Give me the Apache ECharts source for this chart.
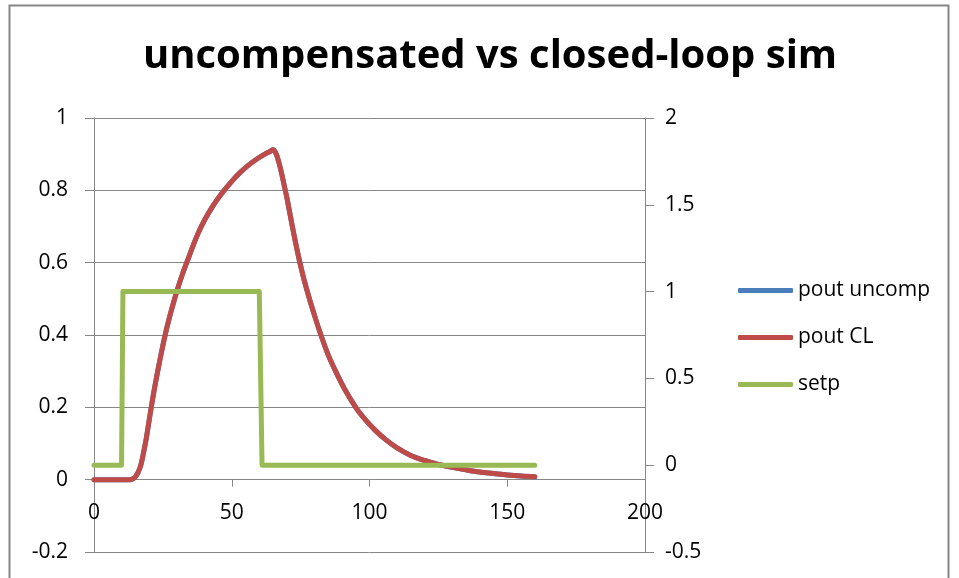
<!DOCTYPE html>
<html>
<head>
<meta charset="utf-8">
<script src="https://cdn.jsdelivr.net/npm/echarts@6/dist/echarts.min.js"></script>
<style>html,body{margin:0;padding:0;background:#fff}#c{width:959px;height:578px}</style>
</head>
<body>
<div id="c"></div>
<script>
const titleText = 'uncompensated vs closed-loop sim';
const seriesNames = ['pout uncomp', 'pout CL', 'setp'];
const xTicks = [0, 50, 100, 150, 200];
const leftTicks = [-0.2, 0, 0.2, 0.4, 0.6, 0.8, 1];
const rightTicks = [-0.5, 0, 0.5, 1, 1.5, 2];

const timeCL = [0, 5, 10, 13, 14, 15, 16, 17, 18, 19, 20, 21, 22, 23, 24, 25, 26, 27, 28, 30, 32, 34, 36, 38, 40, 43, 46, 50, 53, 56, 59, 62, 64, 65, 66, 67, 68, 69, 70, 72, 74, 76, 78, 80, 82, 85, 88, 91, 95, 98, 102, 106, 110, 115, 120, 125, 130, 135, 140, 145, 150, 155, 160];
const poutCL = [0, 0, 0, 0, 0.002, 0.008, 0.02, 0.04, 0.075, 0.115, 0.163, 0.21, 0.254, 0.295, 0.334, 0.371, 0.406, 0.437, 0.466, 0.519, 0.566, 0.607, 0.648, 0.685, 0.716, 0.755, 0.788, 0.825, 0.849, 0.869, 0.886, 0.90, 0.908, 0.912, 0.903, 0.88, 0.85, 0.815, 0.78, 0.70, 0.625, 0.56, 0.505, 0.455, 0.408, 0.345, 0.295, 0.25, 0.20, 0.17, 0.137, 0.11, 0.088, 0.067, 0.053, 0.042, 0.034, 0.027, 0.021, 0.017, 0.013, 0.010, 0.008];
const poutUncomp = [0, 0, 0, 0, 0.002, 0.008, 0.02, 0.04, 0.075, 0.115, 0.163, 0.21, 0.254, 0.295, 0.334, 0.371, 0.406, 0.437, 0.466, 0.519, 0.566, 0.607, 0.648, 0.685, 0.716, 0.755, 0.788, 0.825, 0.849, 0.869, 0.886, 0.90, 0.908, 0.912, 0.903, 0.88, 0.85, 0.815, 0.78, 0.70, 0.625, 0.56, 0.505, 0.455, 0.408, 0.345, 0.295, 0.25, 0.20, 0.17, 0.137, 0.11, 0.088, 0.067, 0.053, 0.042, 0.034, 0.027, 0.021, 0.017, 0.013, 0.010, 0.008];
const timeSetp = [0, 10, 10.5, 60, 61, 160];
const setp = [0, 0, 1, 1, 0, 0];

const pair = (xs, ys) => xs.map((x, i) => [x, ys[i]]);
const FONT = '"Open Sans", "Liberation Sans", sans-serif';
const axisGray = '#868686';

const GRID_TOP = 118, GRID_BOTTOM = 26, H = 578;
const plotH = H - GRID_TOP - GRID_BOTTOM;
// shift the x axis up from the bottom edge to where the left axis reads zero
const zeroOffset = -plotH * (0 - leftTicks[0]) / (leftTicks[leftTicks.length - 1] - leftTicks[0]);

const chart = echarts.init(document.getElementById('c'), null, {renderer: 'canvas'});
chart.setOption({
  animation: false,
  backgroundColor: '#ffffff',
  title: {
    text: titleText,
    left: 490,
    textAlign: 'center',
    top: 37,
    padding: 0,
    textStyle: {fontFamily: FONT, fontWeight: 'bold', fontSize: 40, color: '#000'}
  },
  legend: {
    orient: 'vertical',
    left: 733,
    top: 275,
    icon: 'roundRect',
    itemWidth: 55,
    itemHeight: 5,
    itemGap: 26,
    data: seriesNames,
    textStyle: {fontFamily: FONT, fontSize: 21, color: '#000'}
  },
  grid: {left: 94, right: 314, top: GRID_TOP, bottom: GRID_BOTTOM, containLabel: false, outerBoundsMode: 'none'},
  xAxis: {
    type: 'value',
    position: 'bottom',
    offset: zeroOffset,
    min: xTicks[0], max: xTicks[xTicks.length - 1], interval: 50,
    axisLine: {show: true, onZero: false, lineStyle: {color: axisGray, width: 1}},
    axisTick: {show: true, length: 7, inside: false, lineStyle: {color: axisGray}},
    axisLabel: {fontFamily: FONT, fontSize: 21, color: '#000', margin: 23},
    splitLine: {show: false}
  },
  yAxis: [
    {
      type: 'value', position: 'left',
      min: leftTicks[0], max: leftTicks[leftTicks.length - 1], interval: 0.2,
      axisLine: {show: true, onZero: false, lineStyle: {color: axisGray}},
      axisTick: {show: true, length: 9, lineStyle: {color: axisGray}},
      axisLabel: {fontFamily: FONT, fontSize: 21, color: '#000', margin: 26,
        formatter: v => String(Math.round(v * 10) / 10)},
      splitLine: {show: true, lineStyle: {color: axisGray, width: 1}}
    },
    {
      type: 'value', position: 'right',
      min: rightTicks[0], max: rightTicks[rightTicks.length - 1], interval: 0.5,
      axisLine: {show: true, onZero: false, lineStyle: {color: axisGray}},
      axisTick: {show: true, length: 9, lineStyle: {color: axisGray}},
      axisLabel: {fontFamily: FONT, fontSize: 21, color: '#000', margin: 20,
        formatter: v => String(v)},
      splitLine: {show: false}
    }
  ],
  series: [
    {
      name: seriesNames[0], type: 'line', yAxisIndex: 0,
      data: pair(timeCL, poutUncomp), showSymbol: false, symbol: 'none', smooth: 0.35,
      lineStyle: {color: '#4A7EBB', width: 5, cap: 'round', join: 'round'},
      itemStyle: {color: '#4A7EBB'}
    },
    {
      name: seriesNames[1], type: 'line', yAxisIndex: 0,
      data: pair(timeCL, poutCL), showSymbol: false, symbol: 'none', smooth: 0.35,
      lineStyle: {color: '#BE4B48', width: 5, cap: 'round', join: 'round'},
      itemStyle: {color: '#BE4B48'}
    },
    {
      name: seriesNames[2], type: 'line', yAxisIndex: 1,
      data: pair(timeSetp, setp), showSymbol: false, symbol: 'none',
      lineStyle: {color: '#98B954', width: 5, cap: 'round', join: 'round'},
      itemStyle: {color: '#98B954'}
    }
  ],
  graphic: [
    {type: 'rect', silent: true, z: -1,
     shape: {x: 9.5, y: 5.5, width: 939, height: 620},
     style: {fill: 'none', stroke: axisGray, lineWidth: 2}}
  ]
});
</script>
</body>
</html>
